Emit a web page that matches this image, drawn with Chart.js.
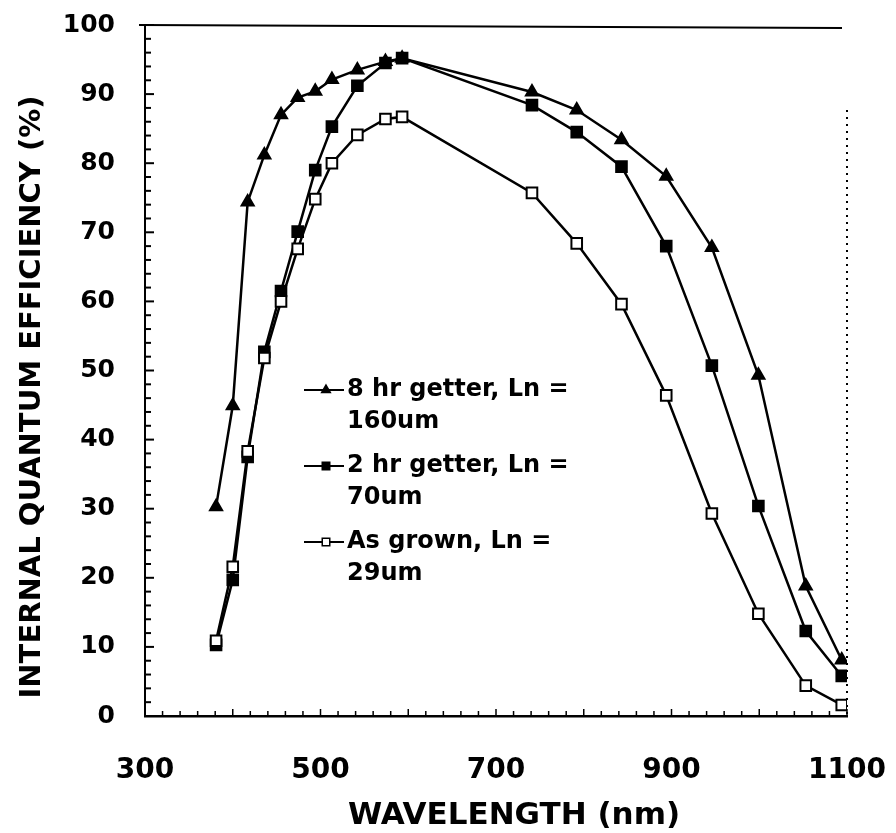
<!DOCTYPE html>
<html><head><meta charset="utf-8">
<script src="https://cdn.jsdelivr.net/npm/chart.js@4.4.1/dist/chart.umd.min.js"></script>
<style>html,body{margin:0;padding:0;background:#fff;} #c{display:block;}</style>
</head><body>
<canvas id="c" width="896" height="833"></canvas>
<script>
// ---- data ----
const wavelengths = [381, 400, 417, 436, 455, 474, 494, 513, 542, 574, 593, 741, 792, 843, 894, 946, 999, 1053, 1094];
const getter8hr   = [30.3, 44.9, 74.4, 81.2, 87.0, 89.5, 90.4, 92.1, 93.5, 94.7, 95.2, 90.3, 87.7, 83.4, 78.1, 67.8, 49.3, 18.8, 8.1];
const getter2hr   = [10.3, 19.7, 37.5, 52.7, 61.5, 70.1, 79.0, 85.3, 91.2, 94.5, 95.2, 88.4, 84.5, 79.5, 68.0, 50.7, 30.4, 12.3, 5.8];
const asGrown     = [10.9, 21.6, 38.3, 51.8, 60.0, 67.6, 74.8, 80.0, 84.1, 86.4, 86.7, 75.7, 68.4, 59.6, 46.4, 29.3, 14.8, 4.4, 1.6];
const seriesNames = [["8 hr getter, Ln =", "160um"], ["2 hr getter, Ln =", "70um"], ["As grown, Ln =", "29um"]];
const xTickLabels = [300, 500, 700, 900, 1100];
const yTickLabels = [0, 10, 20, 30, 40, 50, 60, 70, 80, 90, 100];
const xTitle = "WAVELENGTH (nm)";
const yTitle = "INTERNAL QUANTUM EFFICIENCY (%)";

const toPts = (vals) => vals.map((v, i) => ({x: wavelengths[i], y: v}));
const FONT = '"DejaVu Sans", sans-serif';

function marker(ctx, style, x, y, r, fill) {
  ctx.save();
  ctx.beginPath();
  if (style === 'triangle') {
    ctx.moveTo(x, y - r);
    ctx.lineTo(x + r * 0.866, y + r / 2);
    ctx.lineTo(x - r * 0.866, y + r / 2);
    ctx.closePath();
  } else {
    const s = r * 0.75;
    ctx.rect(x - s, y - s, 2 * s, 2 * s);
  }
  ctx.fillStyle = fill;
  ctx.fill();
  ctx.lineWidth = 1.5;
  ctx.strokeStyle = '#000';
  ctx.stroke();
  ctx.restore();
}

const framePlugin = {
  id: 'frame',
  beforeDatasetsDraw(chart) {
    const {ctx, chartArea: a, scales: {x, y}} = chart;
    ctx.save();
    ctx.strokeStyle = '#000';
    ctx.lineWidth = 2;
    ctx.beginPath(); ctx.moveTo(a.left - 6, a.top); ctx.lineTo(a.right - 5, a.top + 3); ctx.stroke();
    ctx.setLineDash([2, 5]);
    ctx.beginPath(); ctx.moveTo(a.right, a.top + 85); ctx.lineTo(a.right, a.bottom); ctx.stroke();
    ctx.setLineDash([]);
    for (let v = 0; v <= 100; v += 2) {
      const py = y.getPixelForValue(v);
      const len = (v % 10 === 0) ? 9 : 6;
      ctx.beginPath(); ctx.moveTo(a.left, py); ctx.lineTo(a.left + len, py); ctx.stroke();
    }
    ctx.lineWidth = 1.5;
    for (let v = 300; v <= 1100; v += 20) {
      const px = x.getPixelForValue(v);
      const len = (v % 100 === 0) ? 7 : 5;
      ctx.beginPath(); ctx.moveTo(px, a.bottom); ctx.lineTo(px, a.bottom - len); ctx.stroke();
    }
    ctx.restore();
  },
  afterDraw(chart) {
    const ctx = chart.ctx;
    ctx.save();
    ctx.fillStyle = '#000';
    ctx.textAlign = 'center';
    ctx.textBaseline = 'middle';
    ctx.font = 'bold 31px ' + FONT;
    ctx.fillText(xTitle, 514, 816);
    ctx.translate(32, 397);
    ctx.rotate(-Math.PI / 2);
    ctx.font = 'bold 29px ' + FONT;
    ctx.fillText(yTitle, 0, 0);
    ctx.restore();
  }
};

const legendPlugin = {
  id: 'inLegend',
  afterDatasetsDraw(chart) {
    const ctx = chart.ctx;
    const styles = [['triangle', '#000'], ['rect', '#000'], ['rect', '#fff']];
    ctx.save();
    ctx.font = 'bold 24px ' + FONT;
    ctx.fillStyle = '#000';
    ctx.textBaseline = 'middle';
    ctx.textAlign = 'left';
    for (let i = 0; i < seriesNames.length; i++) {
      const yy = 390 + i * 76;
      ctx.strokeStyle = '#000';
      ctx.lineWidth = 2;
      ctx.beginPath(); ctx.moveTo(304, yy); ctx.lineTo(344, yy); ctx.stroke();
      marker(ctx, styles[i][0], 326, yy, 5, styles[i][1]);
      ctx.fillText(seriesNames[i][0], 347, yy);
      ctx.fillText(seriesNames[i][1], 347, yy + 32);
    }
    ctx.restore();
  }
};

const common = {borderColor: '#000', borderWidth: 2.5, pointBorderColor: '#000', pointBorderWidth: 2, fill: false, tension: 0, showLine: true};

new Chart(document.getElementById('c'), {
  type: 'scatter',
  data: {
    datasets: [
      Object.assign({label: seriesNames[0].join(' '), data: toPts(getter8hr), pointStyle: 'triangle', pointRadius: 7, pointBackgroundColor: '#000', order: 3}, common),
      Object.assign({label: seriesNames[1].join(' '), data: toPts(getter2hr), pointStyle: 'rect', pointRadius: 7.5, pointBackgroundColor: '#000', order: 2}, common),
      Object.assign({label: seriesNames[2].join(' '), data: toPts(asGrown), pointStyle: 'rect', pointRadius: 7.5, pointBackgroundColor: '#fff', order: 1}, common)
    ]
  },
  options: {
    responsive: false,
    animation: false,
    layout: {autoPadding: false, padding: {left: 0, right: 49, top: 25, bottom: 0}},
    plugins: {legend: {display: false}, tooltip: {enabled: false}},
    scales: {
      x: {
        type: 'linear', min: 300, max: 1100,
        afterBuildTicks: (ax) => { ax.ticks = xTickLabels.map(v => ({value: v})); },
        afterFit: (ax) => { ax.height = 117; ax.paddingLeft = 0; ax.paddingRight = 0; ax.paddingTop = 0; ax.paddingBottom = 0; },
        grid: {display: false, drawTicks: false},
        border: {display: true, color: '#000', width: 2.5},
        ticks: {color: '#000', padding: 38, callback: (v) => String(v), font: {family: FONT, weight: 'bold', size: 28}},
        title: {display: false, text: xTitle}
      },
      y: {
        type: 'linear', min: 0, max: 100,
        afterBuildTicks: (ax) => { ax.ticks = yTickLabels.map(v => ({value: v})); },
        afterFit: (ax) => { ax.width = 145; ax.paddingLeft = 0; ax.paddingRight = 0; ax.paddingTop = 0; ax.paddingBottom = 0; },
        grid: {display: false, drawTicks: false},
        border: {display: true, color: '#000', width: 2},
        ticks: {color: '#000', padding: 30, callback: (v) => String(v), font: {family: FONT, weight: 'bold', size: 25}},
        title: {display: false, text: yTitle}
      }
    }
  },
  plugins: [framePlugin, legendPlugin]
});
</script>
</body></html>
